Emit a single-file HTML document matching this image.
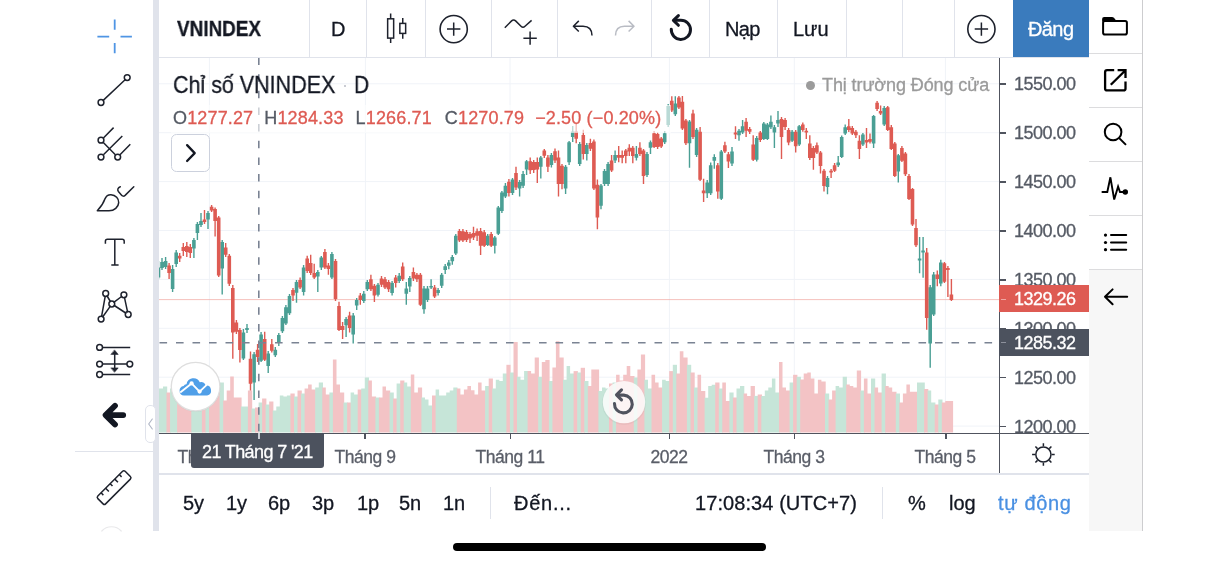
<!DOCTYPE html>
<html lang="vi">
<head>
<meta charset="utf-8">
<title>VNINDEX</title>
<style>
*{box-sizing:border-box;margin:0;padding:0}
html,body{width:1218px;height:563px;background:#fff;overflow:hidden}
body{position:relative;font-family:"Liberation Sans",sans-serif;color:#131722}
.abs{position:absolute}
.t{position:absolute;white-space:nowrap;line-height:1}
.t,.bt,.tl,.ax{will-change:transform;-webkit-text-stroke:0.3px}
.sep{position:absolute;background:#e0e3eb}
.ax{position:absolute;left:1013.8px;font-size:18px;color:#555a64;line-height:1;white-space:nowrap;letter-spacing:-0.52px}
.tick{position:absolute;left:1000px;width:5.6px;height:1.5px;background:#50545e}
.tl{position:absolute;top:448.6px;font-size:17.5px;color:#5a5e68;line-height:1;white-space:nowrap;transform:translateX(-50%);letter-spacing:-0.45px}
.ttick{position:absolute;top:433px;width:1.5px;height:6px;background:#50545e}
.bt{position:absolute;top:493px;font-size:20px;line-height:1;white-space:nowrap;color:#131722}
svg{overflow:visible}
.ic{position:absolute;left:0;top:0}
</style>
</head>
<body>

<!-- left gutter band -->
<div class="abs" style="left:153px;top:0;width:6px;height:531px;background:#e0e3eb"></div>

<!-- top toolbar -->
<div class="abs" style="left:159px;top:0;width:930px;height:57px;background:#fff"></div>
<div class="sep" style="left:159px;top:56.5px;width:930px;height:1.5px"></div>
<div class="sep" style="left:309px;top:0;width:1px;height:57px"></div>
<div class="sep" style="left:366px;top:0;width:1px;height:57px"></div>
<div class="sep" style="left:424.5px;top:0;width:1px;height:57px"></div>
<div class="sep" style="left:491px;top:0;width:1px;height:57px"></div>
<div class="sep" style="left:557px;top:0;width:1px;height:57px"></div>
<div class="sep" style="left:651px;top:0;width:1px;height:57px"></div>
<div class="sep" style="left:708.5px;top:0;width:1px;height:57px"></div>
<div class="sep" style="left:777px;top:0;width:1px;height:57px"></div>
<div class="sep" style="left:845.5px;top:0;width:1px;height:57px"></div>
<div class="sep" style="left:902px;top:0;width:1px;height:57px"></div>
<div class="sep" style="left:953.5px;top:0;width:1px;height:57px"></div>
<div class="t" id="sym" style="left:177.3px;top:18.9px;font-size:21.4px;font-weight:bold;transform-origin:0 50%;transform:scaleX(0.884)">VNINDEX</div>
<div class="t" id="tfD" style="left:330.8px;top:19px;font-size:20px">D</div>
<div class="t" id="nap" style="left:725.3px;top:19px;font-size:20px;letter-spacing:-0.7px">Nạp</div>
<div class="t" id="luu" style="left:793px;top:19px;font-size:20px">Lưu</div>
<div class="abs" style="left:1013px;top:0;width:76px;height:57px;background:#3a7bbd"></div>
<div class="t" id="dang" style="left:1028px;top:19px;font-size:20px;letter-spacing:-0.6px;color:#fff">Đăng</div>

<!-- right side panel -->
<div class="abs" style="left:1089px;top:269px;width:53px;height:262px;background:#f7f7f7"></div>
<div class="abs" style="left:1142px;top:0;width:1.1px;height:531px;background:#cdcdcf"></div>
<div class="abs" style="left:1089px;top:52.5px;width:53px;height:1.5px;background:#dcdcde"></div>
<div class="abs" style="left:1089px;top:106.5px;width:53px;height:1.5px;background:#dcdcde"></div>
<div class="abs" style="left:1089px;top:160.5px;width:53px;height:1.5px;background:#dcdcde"></div>
<div class="abs" style="left:1089px;top:214.5px;width:53px;height:1.5px;background:#dcdcde"></div>
<div class="abs" style="left:1089px;top:268.5px;width:53px;height:1.5px;background:#dcdcde"></div>

<!-- chart -->
<svg id="chart" width="1218" height="563" viewBox="0 0 1218 563" style="position:absolute;left:0;top:0">
<defs><clipPath id="cp"><rect x="159" y="58" width="840" height="375"/></clipPath></defs>
<g clip-path="url(#cp)">
<path d="M159 426.1H999" stroke="#f0f3f8" stroke-width="1"/><path d="M159 377.2H999" stroke="#f0f3f8" stroke-width="1"/><path d="M159 328.3H999" stroke="#f0f3f8" stroke-width="1"/><path d="M159 279.4H999" stroke="#f0f3f8" stroke-width="1"/><path d="M159 230.5H999" stroke="#f0f3f8" stroke-width="1"/><path d="M159 181.6H999" stroke="#f0f3f8" stroke-width="1"/><path d="M159 132.7H999" stroke="#f0f3f8" stroke-width="1"/><path d="M159 83.8H999" stroke="#f0f3f8" stroke-width="1"/><path d="M209.4 58V433" stroke="#f0f3f8" stroke-width="1"/><path d="M365.4 58V433" stroke="#f0f3f8" stroke-width="1"/><path d="M510 58V433" stroke="#f0f3f8" stroke-width="1"/><path d="M669.4 58V433" stroke="#f0f3f8" stroke-width="1"/><path d="M794.3 58V433" stroke="#f0f3f8" stroke-width="1"/><path d="M945.4 58V433" stroke="#f0f3f8" stroke-width="1"/>
<path d="M155.9 432.5V388.5H159.4V388.5H163V386.5H167.2V432.5z" fill="#c6e5d8"/><path d="M166.5 432.5V392.5H170.8V432.5z" fill="#f3c3c5"/><path d="M170.1 432.5V388.5H173.6V384.5H177.8V432.5z" fill="#c6e5d8"/><path d="M177.1 432.5V389.5H180.7V393.5H184.2V393.5H187.8V390.5H192V432.5z" fill="#f3c3c5"/><path d="M191.3 432.5V387.5H194.8V392.5H198.4V390.5H202.6V432.5z" fill="#c6e5d8"/><path d="M201.9 432.5V394.5H206.2V432.5z" fill="#f3c3c5"/><path d="M205.5 432.5V387.5H209.7V432.5z" fill="#c6e5d8"/><path d="M209 432.5V392.5H212.5V388.5H216.1V386.5H220.3V432.5z" fill="#f3c3c5"/><path d="M219.6 432.5V382.5H223.9V432.5z" fill="#c6e5d8"/><path d="M223.2 432.5V400.5H226.7V390.5H230.2V376.5H233.8V397.5H237.3V397.5H241.6V432.5z" fill="#f3c3c5"/><path d="M240.9 432.5V406.5H244.4V406.5H248.6V432.5z" fill="#c6e5d8"/><path d="M247.9 432.5V390.5H252.2V432.5z" fill="#f3c3c5"/><path d="M251.5 432.5V408.5H255.7V432.5z" fill="#c6e5d8"/><path d="M255 432.5V407.5H259.3V432.5z" fill="#f3c3c5"/><path d="M258.6 432.5V402.5H262.8V432.5z" fill="#c6e5d8"/><path d="M262.1 432.5V398.5H266.4V432.5z" fill="#f3c3c5"/><path d="M265.6 432.5V404.5H269.9V432.5z" fill="#c6e5d8"/><path d="M269.2 432.5V401.5H273.4V432.5z" fill="#f3c3c5"/><path d="M272.7 432.5V410.5H276.3V406.5H279.8V395.5H283.4V396.5H286.9V395.5H291.1V432.5z" fill="#c6e5d8"/><path d="M290.4 432.5V393.5H294.7V432.5z" fill="#f3c3c5"/><path d="M294 432.5V396.5H298.2V432.5z" fill="#c6e5d8"/><path d="M297.5 432.5V390.5H301.8V432.5z" fill="#f3c3c5"/><path d="M301.1 432.5V393.5H305.3V432.5z" fill="#c6e5d8"/><path d="M304.6 432.5V388.5H308.1V384.5H311.7V389.5H315.9V432.5z" fill="#f3c3c5"/><path d="M315.2 432.5V387.5H318.8V382.5H323V432.5z" fill="#c6e5d8"/><path d="M322.3 432.5V387.5H325.8V394.5H330.1V432.5z" fill="#f3c3c5"/><path d="M329.4 432.5V392.5H333.6V432.5z" fill="#c6e5d8"/><path d="M332.9 432.5V359.5H336.5V384.5H340V392.5H344.2V432.5z" fill="#f3c3c5"/><path d="M343.5 432.5V402.5H347.8V432.5z" fill="#c6e5d8"/><path d="M347.1 432.5V402.5H351.3V432.5z" fill="#f3c3c5"/><path d="M350.6 432.5V392.5H354.1V394.5H358.4V432.5z" fill="#c6e5d8"/><path d="M357.7 432.5V389.5H361.9V432.5z" fill="#f3c3c5"/><path d="M361.2 432.5V388.5H364.8V377.5H369V432.5z" fill="#c6e5d8"/><path d="M368.3 432.5V380.5H371.9V396.5H376.1V432.5z" fill="#f3c3c5"/><path d="M375.4 432.5V397.5H379.6V432.5z" fill="#c6e5d8"/><path d="M378.9 432.5V397.5H382.5V386.5H386V390.5H390.2V432.5z" fill="#f3c3c5"/><path d="M389.6 432.5V392.5H393.8V432.5z" fill="#c6e5d8"/><path d="M393.1 432.5V398.5H397.3V432.5z" fill="#f3c3c5"/><path d="M396.6 432.5V383.5H400.9V432.5z" fill="#c6e5d8"/><path d="M400.2 432.5V380.5H404.4V432.5z" fill="#f3c3c5"/><path d="M403.7 432.5V382.5H407.2V386.5H411.5V432.5z" fill="#c6e5d8"/><path d="M410.8 432.5V374.5H414.3V392.5H417.9V387.5H422.1V432.5z" fill="#f3c3c5"/><path d="M421.4 432.5V397.5H425V399.5H428.5V405.5H432.7V432.5z" fill="#c6e5d8"/><path d="M432 432.5V395.5H436.3V432.5z" fill="#f3c3c5"/><path d="M435.6 432.5V389.5H439.1V395.5H442.6V395.5H446.2V392.5H449.7V390.5H453.3V387.5H457.5V432.5z" fill="#c6e5d8"/><path d="M456.8 432.5V388.5H460.4V394.5H463.9V389.5H467.4V386H471V390.2H474.5V394.5H478.1V382.5H481.6V390.5H485.8V432.5z" fill="#f3c3c5"/><path d="M485.1 432.5V386H489.4V432.5z" fill="#c6e5d8"/><path d="M488.7 432.5V378.5H492.9V432.5z" fill="#f3c3c5"/><path d="M492.2 432.5V388.5H495.8V379.8H499.3V381H502.8V373.5H507.1V432.5z" fill="#c6e5d8"/><path d="M506.4 432.5V364.8H510.6V432.5z" fill="#f3c3c5"/><path d="M509.9 432.5V372.5H514.2V432.5z" fill="#c6e5d8"/><path d="M513.5 432.5V342H517.7V432.5z" fill="#f3c3c5"/><path d="M517 432.5V376.8H520.5V379.8H524.1V371.1H528.3V432.5z" fill="#c6e5d8"/><path d="M527.6 432.5V371.1H531.1V373.5H534.7V357.5H538.9V432.5z" fill="#f3c3c5"/><path d="M538.2 432.5V376.8H542.5V432.5z" fill="#c6e5d8"/><path d="M541.8 432.5V361.9H545.3V359.9H549.6V432.5z" fill="#f3c3c5"/><path d="M548.9 432.5V381H553.1V432.5z" fill="#c6e5d8"/><path d="M552.4 432.5V367.5H555.9V341.2H559.5V357.5H563.7V432.5z" fill="#f3c3c5"/><path d="M563 432.5V379.8H566.6V366.1H570.1V373.5H574.3V432.5z" fill="#c6e5d8"/><path d="M573.6 432.5V371.1H577.9V432.5z" fill="#f3c3c5"/><path d="M577.2 432.5V372.5H581.4V432.5z" fill="#c6e5d8"/><path d="M580.7 432.5V367.8H585V432.5z" fill="#f3c3c5"/><path d="M584.3 432.5V381H588.5V432.5z" fill="#c6e5d8"/><path d="M587.8 432.5V386H591.3V369.5H594.9V369.5H599.1V432.5z" fill="#f3c3c5"/><path d="M598.4 432.5V391H602V387.5H605.5V388.5H609.7V432.5z" fill="#c6e5d8"/><path d="M609 432.5V383.5H613.3V432.5z" fill="#f3c3c5"/><path d="M612.6 432.5V382.5H616.8V432.5z" fill="#c6e5d8"/><path d="M616.1 432.5V374.8H619.6V380.5H623.2V374.8H626.7V366.1H630.3V376H634.5V432.5z" fill="#f3c3c5"/><path d="M633.8 432.5V377.5H638.1V432.5z" fill="#c6e5d8"/><path d="M637.4 432.5V369.5H640.9V354.5H645.1V432.5z" fill="#f3c3c5"/><path d="M644.4 432.5V379.8H648V388.5H652.2V432.5z" fill="#c6e5d8"/><path d="M651.5 432.5V374.8H655.1V382.5H658.6V387.5H662.8V432.5z" fill="#f3c3c5"/><path d="M662.1 432.5V379.8H665.7V381H669.9V432.5z" fill="#c6e5d8"/><path d="M669.2 432.5V371.1H673.5V432.5z" fill="#f3c3c5"/><path d="M672.8 432.5V364.8H677V432.5z" fill="#c6e5d8"/><path d="M676.3 432.5V373.5H679.8V351.2H683.4V357.5H687.6V432.5z" fill="#f3c3c5"/><path d="M686.9 432.5V364.8H691.2V432.5z" fill="#c6e5d8"/><path d="M690.5 432.5V372.5H694.7V432.5z" fill="#f3c3c5"/><path d="M694 432.5V387.5H698.2V432.5z" fill="#c6e5d8"/><path d="M697.5 432.5V374.8H701.1V391H705.3V432.5z" fill="#f3c3c5"/><path d="M704.6 432.5V397.7H708.2V386H711.7V384.8H715.9V432.5z" fill="#c6e5d8"/><path d="M715.2 432.5V382.5H719.5V432.5z" fill="#f3c3c5"/><path d="M718.8 432.5V388.5H723V432.5z" fill="#c6e5d8"/><path d="M722.3 432.5V382.5H725.9V400.9H730.1V432.5z" fill="#f3c3c5"/><path d="M729.4 432.5V392.5H733.6V432.5z" fill="#c6e5d8"/><path d="M732.9 432.5V397.5H737.2V432.5z" fill="#f3c3c5"/><path d="M736.5 432.5V388.5H740V386H744.3V432.5z" fill="#c6e5d8"/><path d="M743.6 432.5V393.5H747.1V395.9H750.6V386H754.9V432.5z" fill="#f3c3c5"/><path d="M754.2 432.5V395.9H758.4V432.5z" fill="#c6e5d8"/><path d="M757.7 432.5V394.5H762V432.5z" fill="#f3c3c5"/><path d="M761.3 432.5V395.9H764.8V390.5H768.3V387.5H771.9V378.5H775.4V392.5H779.7V432.5z" fill="#c6e5d8"/><path d="M779 432.5V361.9H782.5V387.5H786V390.5H790.3V432.5z" fill="#f3c3c5"/><path d="M789.6 432.5V382.5H793.8V432.5z" fill="#c6e5d8"/><path d="M793.1 432.5V374.8H797.4V432.5z" fill="#f3c3c5"/><path d="M796.7 432.5V376.8H800.9V432.5z" fill="#c6e5d8"/><path d="M800.2 432.5V379.5H803.7V373.5H807.3V372.5H810.8V378.5H814.4V393.5H817.9V379.8H821.4V381.5H825.7V432.5z" fill="#f3c3c5"/><path d="M825 432.5V393.5H829.2V432.5z" fill="#c6e5d8"/><path d="M828.5 432.5V399.5H832.1V390.5H836.3V432.5z" fill="#f3c3c5"/><path d="M835.6 432.5V386H839.1V387.5H842.7V376.8H846.9V432.5z" fill="#c6e5d8"/><path d="M846.2 432.5V384.5H849.8V386H853.3V387.5H856.8V370.5H861.1V432.5z" fill="#f3c3c5"/><path d="M860.4 432.5V390.5H864.6V432.5z" fill="#c6e5d8"/><path d="M863.9 432.5V378.5H867.5V393.5H871.7V432.5z" fill="#f3c3c5"/><path d="M871 432.5V378.5H875.2V432.5z" fill="#c6e5d8"/><path d="M874.5 432.5V387.5H878.1V392.5H882.3V432.5z" fill="#f3c3c5"/><path d="M881.6 432.5V373.5H885.9V432.5z" fill="#c6e5d8"/><path d="M885.2 432.5V386H888.7V387.5H892.2V391.7H896.5V432.5z" fill="#f3c3c5"/><path d="M895.8 432.5V393.5H900V432.5z" fill="#c6e5d8"/><path d="M899.3 432.5V402.5H902.9V393.5H906.4V384.5H909.9V391.7H913.5V391.7H917.7V432.5z" fill="#f3c3c5"/><path d="M917 432.5V382.5H920.6V382.5H924.8V432.5z" fill="#c6e5d8"/><path d="M924.1 432.5V389H928.3V432.5z" fill="#f3c3c5"/><path d="M927.6 432.5V390.5H931.2V402.5H935.4V432.5z" fill="#c6e5d8"/><path d="M934.7 432.5V404.5H939V432.5z" fill="#f3c3c5"/><path d="M938.3 432.5V399.5H942.5V432.5z" fill="#c6e5d8"/><path d="M941.8 432.5V402.5H945.3V400.9H948.9V400.9H953.1V432.5z" fill="#f3c3c5"/>
<path d="M159 299.6H999" stroke="#f0a6a1" stroke-width="0.7"/>
<path d="M158.5 261V279M162 258V270M165.6 257V269M172.6 265V292M176.2 250V267M193.9 238V258M197.4 222V240M201 213V227M208 211V229M222.2 240V294.6M243.4 329V360M247 324V333M254.1 352V400M261.1 332V362M268.2 351V373M275.3 347V357M278.8 333V346M282.4 316V333M285.9 305V325M289.5 294V315M296.5 280V302.7M303.6 265V295.5M317.8 270V292M321.3 256V270M331.9 252V279M346.1 317V337M353.2 313V343.4M356.7 298V310M363.8 291V303M367.3 280V291M378 283V296.5M392.1 281V295.6M399.2 273V283M406.3 282V304.7M409.8 276V292M424 286V313.7M427.5 286V302M431.1 279.3V289M438.1 288V295.6M441.7 273V288M445.2 264V274M448.8 260V269.3M452.3 255V264.8M455.8 234V255M487.7 234V246M494.8 236V253.6M498.3 206V235M501.9 191V213M505.4 183V198M512.5 178V195M519.6 180V196.6M523.1 171V188M526.6 160V174.9M540.8 156V178.5M551.4 153V167.6M565.6 165V194M569.1 141V165M572.7 126V142M579.7 142V166M586.8 143V160.4M601 184V209.3M604.5 169V186M608.1 162V186M615.1 150.5V163M636.4 146V160.5M647 152V177M650.5 140.5V154M664.7 131V144M668.2 104V127M675.3 96.2V116M689.5 120V167.7M696.6 128V157M707.2 180V198M710.7 162.5V195M714.3 154.3V168.8M721.3 150V200M732 147V166M739 129V140.8M742.6 120V134M756.7 136V161.6M763.8 122V140M767.4 123V140M770.9 115.4V129M774.4 125V148M778 110.9V127M792.1 130V142M799.2 125V146M827.5 176V194.2M838.2 156V167M841.7 135.5V158M845.2 124.5V135M862.9 133V146M873.6 115V148M884.2 106V126M898.3 154V182.4M919.6 237V273.3M923.1 237V277.8M930.2 285V367.8M933.7 272V316M940.8 259.7V286.3" stroke="#4a9f94" stroke-width="1.4" fill="none"/><path d="M156.7 267.5h3.6V277.4h-3.6zM160.2 262h3.6V268h-3.6zM163.8 261h3.6V267h-3.6zM170.8 269h3.6V289h-3.6zM174.4 252.6h3.6V264h-3.6zM192.1 240h3.6V248.4h-3.6zM195.6 224h3.6V233h-3.6zM199.2 221h3.6V225h-3.6zM206.2 213h3.6V219.5h-3.6zM220.4 242h3.6V268.4h-3.6zM241.6 332.6h3.6V358.5h-3.6zM245.2 328h3.6V330h-3.6zM252.3 354.3h3.6V382.4h-3.6zM259.3 334.4h3.6V360.7h-3.6zM266.4 353.4h3.6V366h-3.6zM273.5 349.8h3.6V355.2h-3.6zM277 335h3.6V342.5h-3.6zM280.6 318h3.6V331.3h-3.6zM284.1 307.2h3.6V323.5h-3.6zM287.7 296h3.6V313.2h-3.6zM294.7 282h3.6V292.8h-3.6zM301.8 267.5h3.6V292h-3.6zM316 272h3.6V276.5h-3.6zM319.5 257.5h3.6V267.5h-3.6zM330.1 253.9h3.6V277.4h-3.6zM344.3 319h3.6V325.3h-3.6zM351.4 315.4h3.6V334.4h-3.6zM354.9 300h3.6V305.5h-3.6zM362 293.8h3.6V301h-3.6zM365.5 282h3.6V289.3h-3.6zM376.2 284.7h3.6V294.7h-3.6zM390.3 283h3.6V293h-3.6zM397.4 275.7h3.6V281h-3.6zM404.5 288.4h3.6V293.8h-3.6zM408 278h3.6V286.6h-3.6zM422.2 288.4h3.6V309.2h-3.6zM425.7 288.4h3.6V300h-3.6zM429.3 286h3.6V287.5h-3.6zM436.3 290h3.6V293h-3.6zM439.9 274.8h3.6V285.7h-3.6zM443.4 266.3h3.6V270h-3.6zM447 262.5h3.6V265.7h-3.6zM450.5 257h3.6V261.2h-3.6zM454 235.8h3.6V253.4h-3.6zM485.9 235.8h3.6V244.9h-3.6zM493 237.6h3.6V245.8h-3.6zM496.5 207.5h3.6V233.7h-3.6zM500.1 192.6h3.6V211h-3.6zM503.6 185.7h3.6V196.6h-3.6zM510.7 179.4h3.6V193h-3.6zM517.8 182h3.6V188.4h-3.6zM521.3 174h3.6V185.7h-3.6zM524.8 161.3h3.6V169.4h-3.6zM539 157.6h3.6V166.7h-3.6zM549.6 155h3.6V165h-3.6zM563.8 166.8h3.6V188.4h-3.6zM567.3 142.3h3.6V162.3h-3.6zM570.9 131.5h3.6V137h-3.6zM577.9 144h3.6V164h-3.6zM585 145h3.6V154h-3.6zM599.2 185.4h3.6V205.7h-3.6zM602.7 171h3.6V184h-3.6zM606.3 164h3.6V184h-3.6zM613.3 155h3.6V160.5h-3.6zM634.6 154h3.6V157.7h-3.6zM645.2 154h3.6V175h-3.6zM648.7 142.3h3.6V147.8h-3.6zM662.9 133.2h3.6V142.2h-3.6zM666.4 106h3.6V125h-3.6zM673.5 103.4h3.6V114.3h-3.6zM687.7 121.5h3.6V143.3h-3.6zM694.8 129.7h3.6V155h-3.6zM705.4 182.4h3.6V193.3h-3.6zM708.9 165.2h3.6V193.3h-3.6zM712.5 157h3.6V160.7h-3.6zM719.5 151.6h3.6V198.7h-3.6zM730.2 151.6h3.6V163.4h-3.6zM737.2 130.8h3.6V135.3h-3.6zM740.8 126.3h3.6V132.6h-3.6zM754.9 138h3.6V159.8h-3.6zM762 123.6h3.6V139h-3.6zM765.6 124.5h3.6V139h-3.6zM769.1 121.7h3.6V127.2h-3.6zM772.6 127.2h3.6V132.6h-3.6zM776.2 120h3.6V123.6h-3.6zM790.3 131.7h3.6V140.8h-3.6zM797.4 126.3h3.6V144.4h-3.6zM825.7 177.9h3.6V187h-3.6zM836.4 162.5h3.6V165.2h-3.6zM839.9 137h3.6V157h-3.6zM843.4 127.2h3.6V133.5h-3.6zM861.1 134.4h3.6V144.4h-3.6zM871.8 116h3.6V143.5h-3.6zM882.4 108h3.6V124.5h-3.6zM896.5 155.3h3.6V171.6h-3.6zM917.8 258.5h3.6V260.5h-3.6zM921.3 250.5h3.6V252.5h-3.6zM928.4 287.2h3.6V343.4h-3.6zM931.9 274.5h3.6V314.4h-3.6zM939 262.4h3.6V283.6h-3.6z" fill="#4a9f94"/><path d="M169.1 263V279M179.7 253V262M183.3 243V256M186.8 242V257M190.3 244V258M204.5 210V224M211.6 205V212M215.1 207.5V236.6M218.7 216V277M225.7 243V257M229.3 254V286M232.8 285V358.8M236.4 320V334M239.9 328V362.5M250.5 351.6V390.5M257.6 344V362M264.7 331.7V361M271.8 339V352.5M293 288V301M300.1 277.4V289M307.2 255.7V273M310.7 254.8V275M314.2 263.8V279M324.9 249V269M328.4 263V274.7M335.5 259V301M339 301.8V331M342.6 322V339M349.6 311.7V332.6M360.3 292.9V304.7M370.9 274.8V291M374.4 284V302M381.5 276V287M385 277V289M388.6 280V292M395.7 275V287.5M402.7 262.5V281M413.4 267.5V281M416.9 273V282M420.4 273V306M434.6 285V298M459.4 229V242M462.9 229V242M466.5 230V242M470 232V243M473.5 226.8V240M477.1 228.6V241M480.6 228V254.9M484.2 230V247M491.2 232V247M508.9 179V196.6M516 166.7V190M530.2 157.6V174M533.7 160V173M537.3 157.6V183M544.3 149V158M547.9 155V172M555 148.6V163M558.5 150.4V196.6M562 164V189.3M576.2 124V143.2M583.3 129.7V159.5M590.4 138.7V151M593.9 139.5V190M597.4 179.4V229.2M611.6 155V172M618.7 146V162.3M622.2 150.5V163.2M625.8 149V163.2M629.3 144.2V156M632.8 146V163.2M639.9 142.3V156M643.5 149V184M654.1 131V148M657.6 132.5V149M661.2 137V148M671.8 96.2V112M678.9 96V109M682.4 96V130M685.9 119V145M693 109.7V139M700.1 127V181M703.6 178.8V202M717.8 163V198.7M724.9 141.7V153M728.4 152V168M735.5 126.3V139M746.1 118V137M749.7 127V134M753.2 135.3V161M760.3 131V142M781.5 117V158.9M785.1 118V130M788.6 128V145.3M795.7 130V152.5M802.8 122.6V131.7M806.3 128V139M809.8 135.3V160M813.4 146V169.7M816.9 142.6V154M820.5 151V173.4M824 169V191.5M831.1 169V177.9M834.6 163V172M848.8 119V132M852.3 126V135M855.9 130V138M859.4 135.3V158.9M866.5 128V148M870 133.5V143.5M877.1 101V111M880.6 105.4V115M887.7 106V131M891.3 125V150M894.8 142V177M901.9 146V162M905.4 152V176M909 174V200M912.5 188V226M916 219V247M926.7 248V329.8M937.3 270.6V286.3M944.4 262V283M947.9 266V297M951.4 279V301" stroke="#de5b53" stroke-width="1.4" fill="none"/><path d="M167.3 265.6h3.6V273h-3.6zM177.9 255.7h3.6V258.4h-3.6zM181.5 247h3.6V251h-3.6zM185 246h3.6V252h-3.6zM188.5 247h3.6V253h-3.6zM202.7 219.5h3.6V222h-3.6zM209.8 206.8h3.6V210.4h-3.6zM213.3 208.9h3.6V221h-3.6zM216.9 217.6h3.6V275.6h-3.6zM223.9 247.5h3.6V254.8h-3.6zM227.5 255.7h3.6V283.8h-3.6zM231 288h3.6V332.6h-3.6zM234.6 322.6h3.6V331.7h-3.6zM238.1 330h3.6V350h-3.6zM248.7 358.8h3.6V383.8h-3.6zM255.8 349.8h3.6V357h-3.6zM262.9 339h3.6V359.7h-3.6zM270 344.3h3.6V350.7h-3.6zM291.2 290h3.6V295.5h-3.6zM298.3 280h3.6V287.4h-3.6zM305.4 258.4h3.6V271h-3.6zM308.9 263h3.6V273h-3.6zM312.4 273h3.6V277.4h-3.6zM323.1 252h3.6V267.5h-3.6zM326.6 265.6h3.6V269h-3.6zM333.7 261h3.6V299h-3.6zM337.2 306h3.6V329.9h-3.6zM340.8 326h3.6V330h-3.6zM347.8 315.4h3.6V328h-3.6zM358.5 295.5h3.6V300h-3.6zM369.1 279.3h3.6V289.3h-3.6zM372.6 285.7h3.6V295.6h-3.6zM379.7 278.4h3.6V284.7h-3.6zM383.2 279.3h3.6V287.5h-3.6zM386.8 282h3.6V289.3h-3.6zM393.9 277.5h3.6V283h-3.6zM400.9 266.6h3.6V279.3h-3.6zM411.6 272h3.6V278.4h-3.6zM415.1 274.8h3.6V279.3h-3.6zM418.6 274.8h3.6V304.7h-3.6zM432.8 287.5h3.6V296.5h-3.6zM457.6 231h3.6V240.4h-3.6zM461.1 231.3h3.6V240.4h-3.6zM464.7 232h3.6V240h-3.6zM468.2 234h3.6V238.6h-3.6zM471.7 233h3.6V237.6h-3.6zM475.3 231.3h3.6V235.8h-3.6zM478.8 231h3.6V245.8h-3.6zM482.4 232.2h3.6V245.8h-3.6zM489.4 234h3.6V245.8h-3.6zM507.1 181.7h3.6V193h-3.6zM514.2 173h3.6V187.5h-3.6zM528.4 161.3h3.6V170.3h-3.6zM531.9 162h3.6V170h-3.6zM535.5 162h3.6V169.4h-3.6zM542.5 150.4h3.6V155.8h-3.6zM546.1 157.6h3.6V166.7h-3.6zM553.2 151.3h3.6V160.4h-3.6zM556.7 157.6h3.6V184h-3.6zM560.2 165.8h3.6V184h-3.6zM574.4 131.5h3.6V138.7h-3.6zM581.5 135h3.6V154h-3.6zM588.6 143h3.6V148.7h-3.6zM592.1 141.4h3.6V188.5h-3.6zM595.6 184.8h3.6V217.4h-3.6zM609.8 160.5h3.6V170.4h-3.6zM616.9 155h3.6V157.7h-3.6zM620.4 155h3.6V157.7h-3.6zM624 150.5h3.6V156h-3.6zM627.5 147.8h3.6V151.4h-3.6zM631 147.8h3.6V156h-3.6zM638.1 147.8h3.6V154h-3.6zM641.7 150.5h3.6V175.9h-3.6zM652.3 133.3h3.6V146.9h-3.6zM655.8 134h3.6V147h-3.6zM659.4 138.5h3.6V146.5h-3.6zM670 100.7h3.6V110.6h-3.6zM677.1 97.5h3.6V107.6h-3.6zM680.6 101.7h3.6V128.4h-3.6zM684.1 120.6h3.6V143.3h-3.6zM691.2 113.4h3.6V137h-3.6zM698.3 131.7h3.6V179.7h-3.6zM701.8 190.6h3.6V193.3h-3.6zM716 165.2h3.6V191.5h-3.6zM723.1 145.3h3.6V151.6h-3.6zM726.6 154.3h3.6V161.6h-3.6zM733.7 132.6h3.6V134.4h-3.6zM744.3 121.7h3.6V130.8h-3.6zM747.9 129h3.6V131.7h-3.6zM751.4 144.4h3.6V159.8h-3.6zM758.5 132.6h3.6V139.9h-3.6zM779.7 119h3.6V137h-3.6zM783.3 120h3.6V127h-3.6zM786.8 130h3.6V142.6h-3.6zM793.9 131.7h3.6V146.2h-3.6zM801 124.5h3.6V130h-3.6zM804.5 130.8h3.6V132.6h-3.6zM808 143.5h3.6V158h-3.6zM811.6 148h3.6V158h-3.6zM815.1 145.3h3.6V152.5h-3.6zM818.7 152.5h3.6V166h-3.6zM822.2 170.7h3.6V186h-3.6zM829.3 170.7h3.6V172.5h-3.6zM832.8 165.2h3.6V170.7h-3.6zM847 126.3h3.6V130h-3.6zM850.5 128h3.6V133.5h-3.6zM854.1 131.7h3.6V135.3h-3.6zM857.6 140.8h3.6V149h-3.6zM864.7 139.9h3.6V142.6h-3.6zM868.2 139h3.6V141.7h-3.6zM875.3 102.7h3.6V109h-3.6zM878.8 110.9h3.6V113.6h-3.6zM885.9 107.2h3.6V129.9h-3.6zM889.5 127.2h3.6V149h-3.6zM893 143.5h3.6V176h-3.6zM900.1 148h3.6V160.7h-3.6zM903.6 153.4h3.6V174.3h-3.6zM907.2 176h3.6V199h-3.6zM910.7 189h3.6V224.4h-3.6zM914.2 228h3.6V245.2h-3.6zM924.9 252.5h3.6V318h-3.6zM935.5 274.5h3.6V279h-3.6zM942.6 263.3h3.6V281.8h-3.6zM946.1 267.9h3.6V270h-3.6zM949.6 294.5h3.6V299.9h-3.6z" fill="#de5b53"/>
<path d="M159.5 342.8H999" stroke="#7a8393" stroke-width="1.6" stroke-dasharray="7.6 8.9"/>
<path d="M258.8 57.5V433" stroke="#7a8393" stroke-width="1.6" stroke-dasharray="7.5 9.15"/>
</g>
</svg>

<!-- legend -->
<div class="abs" style="left:171px;top:105px;width:500px;height:28px;background:rgba(255,255,255,0.62)"></div>
<div class="t" id="lg1" style="left:173.2px;top:72.6px;font-size:24.3px;color:#131722;transform-origin:0 50%;transform:scaleX(0.884)">Chỉ số VNINDEX</div>
<div class="abs" style="left:343.6px;top:84.6px;width:2.6px;height:2.6px;border-radius:50%;background:#b8bbc4"></div>
<div class="t" id="lg1d" style="left:354.2px;top:72.6px;font-size:24.3px;color:#131722;transform-origin:0 50%;transform:scaleX(0.86)">D</div>
<div class="t" id="lg2" style="left:173px;top:109px;font-size:18px;color:#de5b53;letter-spacing:0.15px"><span style="color:#555a64">O</span>1277.27<span style="color:#555a64;margin-left:11px">H</span>1284.33<span style="color:#555a64;margin-left:12px">L</span>1266.71<span style="color:#555a64;margin-left:13px">C</span>1270.79<span style="margin-left:11px">−2.50 (−0.20%)</span></div>
<div class="abs" style="left:171px;top:133.9px;width:38.8px;height:38.6px;border:1.5px solid #ccd1dd;border-radius:5.5px;background:#fff"></div>
<div class="abs" style="left:806px;top:80.5px;width:9px;height:9px;border-radius:50%;background:#9b9b9b"></div>
<div class="t" id="mkt" style="left:821.5px;top:76px;font-size:18px;color:#9a9a9a;letter-spacing:-0.1px">Thị trường Đóng cửa</div>

<!-- price axis -->
<div class="abs" style="left:999.2px;top:58px;width:1.3px;height:415px;background:#50545e"></div>
<div class="abs" id="axclip" style="left:1000px;top:58px;width:89px;height:375px;overflow:hidden">
</div>
<div class="tick" style="top:83px"></div><div class="ax" style="top:75px">1550.00</div>
<div class="tick" style="top:132px"></div><div class="ax" style="top:124px">1500.00</div>
<div class="tick" style="top:181px"></div><div class="ax" style="top:173px">1450.00</div>
<div class="tick" style="top:230px"></div><div class="ax" style="top:222px">1400.00</div>
<div class="tick" style="top:279px"></div><div class="ax" style="top:271px">1350.00</div>
<div class="tick" style="top:328px"></div><div class="ax" style="top:320px">1300.00</div>
<div class="tick" style="top:376.5px"></div><div class="ax" style="top:369px">1250.00</div>
<div class="tick" style="top:425.5px"></div><div class="abs" style="left:1014px;top:417px;width:75px;height:15.5px;overflow:hidden"><div class="ax" style="left:0;top:0.5px">1200.00</div></div>
<div class="abs" style="left:999px;top:285px;width:90px;height:27px;background:#de5b53"></div>
<div class="abs" style="left:1000.5px;top:298.9px;width:5px;height:1.3px;background:#eea7a2"></div>
<div class="ax" style="top:290px;color:#fff">1329.26</div>
<div class="abs" style="left:999px;top:328.5px;width:90px;height:27px;background:#4c525e"></div>
<div class="abs" style="left:1000.5px;top:342.1px;width:5px;height:1.3px;background:#8d919c"></div>
<div class="ax" style="top:333.5px;color:#fff">1285.32</div>

<!-- time axis -->
<div class="abs" style="left:159px;top:432.6px;width:930px;height:1.3px;background:#50545e"></div>
<div class="sep" style="left:159px;top:473px;width:930px;height:1.5px"></div>
<div class="ttick" style="left:208.5px"></div><div class="tl" style="left:208px">Tháng 7</div>
<div class="ttick" style="left:364px"></div><div class="tl" style="left:364.5px">Tháng 9</div>
<div class="ttick" style="left:509.5px"></div><div class="tl" style="left:510px">Tháng 11</div>
<div class="ttick" style="left:668.5px"></div><div class="tl" style="left:668.5px">2022</div>
<div class="ttick" style="left:793.5px"></div><div class="tl" style="left:794px">Tháng 3</div>
<div class="ttick" style="left:945px"></div><div class="tl" style="left:945px">Tháng 5</div>
<div class="abs" style="left:190.5px;top:433px;width:133.5px;height:34.5px;background:#4c525e;border-radius:0 0 3px 3px"></div>
<div class="abs" style="left:258px;top:433px;width:1.5px;height:6px;background:#c9ccd3"></div>
<div class="t" id="tip" style="left:201.8px;top:443px;font-size:18px;letter-spacing:-0.62px;color:#fff">21 Tháng 7 '21</div>

<!-- bottom toolbar -->
<div class="bt" style="left:183px">5y</div>
<div class="bt" style="left:226px">1y</div>
<div class="bt" style="left:267.5px">6p</div>
<div class="bt" style="left:311.5px">3p</div>
<div class="bt" style="left:356.5px">1p</div>
<div class="bt" style="left:398.5px">5n</div>
<div class="bt" style="left:442.5px">1n</div>
<div class="sep" style="left:489.5px;top:487px;width:1px;height:32px"></div>
<div class="bt" style="left:513.7px;letter-spacing:0.75px">Đến...</div>
<div class="bt" id="clock" style="left:694.8px;letter-spacing:0.08px">17:08:34 (UTC+7)</div>
<div class="sep" style="left:882px;top:487px;width:1px;height:32px"></div>
<div class="bt" style="left:908px">%</div>
<div class="bt" style="left:948.5px">log</div>
<div class="bt" id="auto" style="left:998px;letter-spacing:0.65px;color:#4a90e2">tự động</div>

<!-- left toolbar -->
<div class="abs" style="left:75px;top:450.5px;width:78px;height:1.5px;background:#e0e3eb"></div>
<div class="abs" style="left:144.5px;top:404.5px;width:11.5px;height:38.5px;background:#fff;border:1.5px solid #e0e3eb;border-radius:5px"></div>

<svg class="ic" width="1218" height="563" viewBox="0 0 1218 563" fill="none" stroke="#1e222d" stroke-width="1.5" stroke-linecap="round" stroke-linejoin="round">
<!-- crosshair -->
<path d="M114.7 19.6V29.8M114.7 42.9V53.3M97.4 36.6H109.2M120.5 36.6H131.9" stroke="#4f95e4" stroke-width="1.8" stroke-linecap="butt"/>
<!-- trend line -->
<path d="M103.2 100.4L125.1 79.7"/><circle cx="127.2" cy="77.6" r="2.9"/><circle cx="101" cy="102.5" r="2.9"/>
<!-- pitchfork -->
<path d="M103.4 138L113.6 127.6M103.3 142.5L115.4 154.8M103.4 154.8L122.3 136M120 154.8L130.3 144.2" stroke-linecap="butt"/>
<circle cx="101" cy="140.2" r="2.9"/><circle cx="101" cy="157.1" r="2.9"/><circle cx="117.7" cy="157.1" r="2.9"/>
<!-- brush -->
<path d="M97.3 210.8C101 207 103.6 203 105.1 198.6C106.4 195.6 108.8 194.7 111 194.8C115.6 195 119 198.6 118.7 202.6C118.4 207.2 114.4 210.8 109 210.8Z"/>
<path d="M120.3 186.8C118 187.6 117 189.6 118.4 191.5L121.6 195.2C122.6 196.4 124 196.4 125.1 195.4L133.8 186.8"/>
<!-- text -->
<path d="M105.4 243.7V241.3Q105.4 239.3 107.4 239.3H122.2Q124.2 239.3 124.2 241.3V243.7M114.8 239.3V264.9M111.3 264.9H118.6" stroke-linecap="butt"/>
<!-- pattern -->
<path d="M101.6 316.3L105.2 296.4M107.1 296L110.4 301.5M114.1 302.2L121.6 296.5M124.5 297.6L127.5 311.7M102.8 316.7L110.2 306.4M114.3 305.5L125.7 313"/>
<circle cx="105.7" cy="293.5" r="2.9"/><circle cx="123.9" cy="294.8" r="2.9"/><circle cx="111.8" cy="304" r="2.9"/><circle cx="101.1" cy="319.1" r="2.9"/><circle cx="128.2" cy="314.5" r="2.9"/>
<!-- measure -->
<path d="M102.5 347.4H130.2M102.5 364.1H126.9M102.5 374.5H130.2M114.7 353V369.5" stroke-linecap="butt"/>
<circle cx="99.6" cy="347.4" r="2.9"/><circle cx="99.6" cy="364.1" r="2.9"/><circle cx="99.6" cy="374.5" r="2.9"/><circle cx="129.8" cy="364.1" r="2.9"/>
<path d="M114.7 350.2L118.2 354.4H111.2ZM114.7 372L118.2 367.9H111.2Z" fill="#1e222d" stroke-width="0.6"/>
<!-- back arrow bold -->
<path d="M115 405.8L105.6 415.1L115 424.5M106.5 415.1H123.2" stroke="#131722" stroke-width="5.8"/>
<!-- collapse chevron -->
<path d="M152.3 419L148.7 424L152.3 429" stroke="#aeb4c4" stroke-width="1.1"/>
<!-- ruler -->
<g transform="translate(114.1 487.6) rotate(-45)">
<rect x="-19.3" y="-5.5" width="38.6" height="11" rx="1.8"/>
<path d="M-12.9 -5.5V-2.3M-6.45 -5.5V-1M0 -5.5V-2.3M6.45 -5.5V-1M12.9 -5.5V-2.3" stroke-linecap="butt"/>
</g>
<!-- tiny partial circle bottom-left -->
<path d="M101.8 531A13.2 13.2 0 0 1 121.2 531" stroke="#e9e9eb" stroke-width="1.2"/>

<!-- candles icon -->
<rect x="387.65" y="18.8" width="6" height="19.3" stroke-linejoin="miter"/>
<path d="M390.65 13.4V18.8M390.65 38.1V43" stroke-linecap="butt"/>
<rect x="399.85" y="23.4" width="5.8" height="10" stroke-linejoin="miter"/>
<path d="M402.75 18V23.4M402.75 33.4V38.8" stroke-linecap="butt"/>
<!-- compare (circle plus) -->
<circle cx="453.7" cy="29.1" r="13.6" stroke-width="1.6"/>
<path d="M447 29.1H460.4M453.7 22.4V35.8" stroke-linecap="butt"/>
<!-- indicators -->
<path d="M504.8 27.7L511.6 20.9Q513.6 18.9 515.6 20.9L521 26.3Q523 28.3 525 26.3L531.6 20.4" stroke-linecap="butt"/>
<path d="M523.4 38.2H536.8M530.1 31.6V44.8" stroke-linecap="butt"/>
<!-- undo -->
<path d="M578.8 20.9L573.4 26.2L578.8 31.5M573.6 26.2H583C589 26.2 592 30 592 35.6" stroke-linecap="butt"/>
<!-- redo -->
<path d="M628.6 20.9L634 26.2L628.6 31.5M633.8 26.2H624.4C618.4 26.2 615.5 30 615.5 35.6" stroke="#b9bcc4" stroke-linecap="butt"/>
<!-- replay -->
<path d="M671.3 29.2A9.6 9.6 0 1 0 680.8 20.2H675" stroke="#131722" stroke-width="3"/>
<path d="M678.4 15.6L673.4 20.4L678.4 25.3" stroke="#131722" stroke-width="3"/>
<!-- plus circle right -->
<circle cx="981.4" cy="29.1" r="13.6" stroke-width="1.6"/>
<path d="M974.7 29.1H988.1M981.4 22.4V35.8" stroke-linecap="butt"/>

<!-- right panel icons -->
<g stroke="#000" stroke-width="2">
<rect x="1103.1" y="20.9" width="23.8" height="13.6" rx="1.8"/>
<path d="M1102.1 21.5V18.9Q1102.1 16.9 1104.1 16.9H1112Q1113.1 16.9 1113.9 17.8L1116.6 20.9Z" fill="#000" stroke="none"/>
<path d="M1114.2 70.2H1107.1Q1105.1 70.2 1105.1 72.2V88.4Q1105.1 90.4 1107.1 90.4H1123.5Q1125.5 90.4 1125.5 88.4V81.6M1110.8 84.8L1125 70.7M1117.6 70.2H1125.5V78" stroke-width="2.3" stroke-linecap="butt" stroke-linejoin="miter"/>
<circle cx="1113.1" cy="132" r="8.3"/>
<path d="M1119.2 138.1L1126 144.9" stroke-linecap="butt"/>
<path d="M1102.4 192H1107.3L1110.4 177.3L1114.2 199.6L1118.1 186.6L1120 192H1124" stroke-width="1.9" stroke-linejoin="miter"/>
<circle cx="1125.3" cy="192" r="2.7" fill="#000" stroke="none"/>
<path d="M1111 235.1H1126.2M1111 242.5H1126.2M1111 249.7H1126.2" stroke-width="2"/>
<circle cx="1105.5" cy="235.1" r="1.6" fill="#000" stroke="none"/><circle cx="1105.5" cy="242.5" r="1.6" fill="#000" stroke="none"/><circle cx="1105.5" cy="249.7" r="1.6" fill="#000" stroke="none"/>
<path d="M1112.6 289.4L1105 296.8L1112.6 304.2M1105.2 296.8H1127.2"/>
</g>

<!-- legend toggle chevron -->
<path d="M187.1 145.1L194.7 153.1L187.1 161" stroke="#131722" stroke-width="2.3"/>

<!-- settings gear on axis corner -->
<g stroke="#1e222d" stroke-width="1.5">
<circle cx="1043.4" cy="454.5" r="7.6"/>
<path d="M1043.4 443.2V446.2M1043.4 462.8V465.8M1032.1 454.5H1035.1M1051.7 454.5H1054.7M1035.4 446.5L1037.5 448.6M1049.3 460.4L1051.4 462.5M1051.4 446.5L1049.3 448.6M1037.5 460.4L1035.4 462.5" stroke-linecap="butt"/>
</g>

<!-- logo bubble -->
<circle cx="195.6" cy="386.9" r="25" fill="#000" fill-opacity="0.05" stroke="none"/>
<circle cx="195.6" cy="386.6" r="24.3" fill="#fff" stroke="#dedede" stroke-width="1.3"/>
<path d="M184 395.6A4.9 4.9 0 0 1 183.6 385.9A3 3 0 0 1 186.5 384.3A7 7 0 0 1 199.8 382.3A4.2 4.2 0 0 1 205.6 385.2A5.3 5.3 0 0 1 207.2 395.6Z" fill="#509fe8" stroke="none"/>
<path d="M180.2 392.4L191.6 383.4L199.6 391.6L208.8 382.9" stroke="#fff" stroke-width="1.9" stroke-linecap="butt"/>
<circle cx="191.6" cy="383.4" r="2.1" fill="#fff" stroke="none"/><circle cx="199.6" cy="391.6" r="2.1" fill="#fff" stroke="none"/>

<!-- replay bubble -->
<circle cx="624" cy="403" r="22" fill="#000" fill-opacity="0.04" stroke="none"/>
<circle cx="624" cy="402.1" r="21.2" fill="#fff" fill-opacity="0.82" stroke="none"/>
<path d="M614.5 403.6A8.9 8.9 0 1 0 623.8 395.1H618" stroke="#50535e" stroke-width="3.1"/>
<path d="M621.5 389.8L616.5 394.8L621.5 399.9" stroke="#50535e" stroke-width="3.1"/>
</svg>


<!-- home indicator -->
<div class="abs" style="left:452.5px;top:543px;width:313.5px;height:8.2px;border-radius:4.1px;background:#000"></div>
</body>
</html>
